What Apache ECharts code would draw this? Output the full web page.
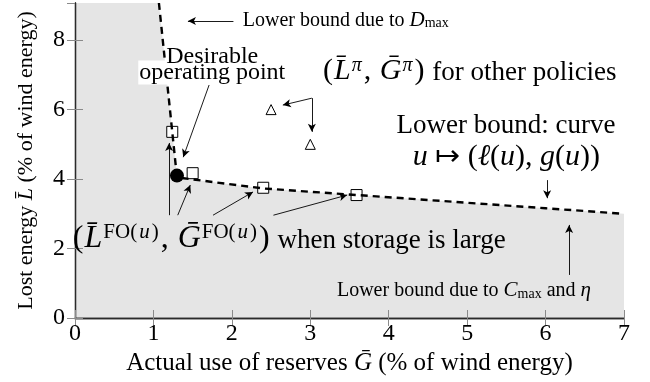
<!DOCTYPE html>
<html lang="en">
<head>
<meta charset="UTF-8">
<title>lower bound</title>
<script src="https://cdn.jsdelivr.net/npm/echarts@6/dist/echarts.min.js"></script>
</head>
<body style="margin:0;background:#fff">
<div id="main" style="width:650px;height:382px;"></div>
<script>
// values: G = reserves used, L = lost energy (% of wind energy)
var curveG = [1.07, 1.30, 1.50, 2.40, 3.60, 6.00, 7.00];
var curveL = [9.07, 4.05, 3.99, 3.73, 3.54, 3.16, 3.00];
var foG = [1.24, 1.50, 2.40, 3.59];
var foL = [5.36, 4.17, 3.75, 3.54];
var otherG = [2.5, 3.0];
var otherL = [6.0, 5.0];
var bestG = [1.30];
var bestL = [4.10];

// annotation arrows, in data coordinates [from, to]
var arrows = [
    [[2.02, 8.55], [1.44, 8.55]],
    [[1.71, 6.71], [1.38, 4.63]],
    [[3.02, 6.33], [2.65, 6.13]],
    [[3.02, 6.33], [3.02, 5.36]],
    [[6.02, 3.97], [6.02, 3.45]],
    [[6.30, 1.24], [6.30, 2.68]],
    [[1.20, 2.96], [1.20, 5.04]],
    [[1.31, 2.96], [1.47, 3.83]],
    [[1.76, 2.96], [2.27, 3.63]],
    [[2.53, 2.96], [3.47, 3.54]]
];

var SERIF = 'Liberation Serif';
var L = 'L\u0304', G = '\u1E20';

function pts(xs, ys) {
    return xs.map(function (x, i) { return [x, ys[i]]; });
}

// rich text styles: n = text, m/i = math (upright/italic), sup/isup/sub = scripts
function rich(sz, msz, ssz) {
    msz = msz || sz;
    ssz = ssz || Math.round(sz * 0.7);
    function st(size, extra) {
        var o = {fontFamily: SERIF, fontSize: size, color: '#000'};
        for (var k in extra) o[k] = extra[k];
        return o;
    }
    return {
        n: st(sz, {lineHeight: sz, verticalAlign: 'bottom'}),
        m: st(msz, {lineHeight: msz, verticalAlign: 'bottom', padding: [0, 1, 0, 1]}),
        i: st(msz, {lineHeight: msz, verticalAlign: 'bottom', fontStyle: 'italic'}),
        sup: st(ssz, {lineHeight: ssz, verticalAlign: 'top', padding: [0, 1, 0, 1]}),
        isup: st(ssz, {lineHeight: ssz, verticalAlign: 'top', fontStyle: 'italic', padding: [0, 1, 0, 1]}),
        sub: st(ssz, {lineHeight: Math.round(ssz * 0.5), verticalAlign: 'bottom'})
    };
}

// text notes: anchor in data coords, alignment, font sizes
var notes = [
    {x: 2.14, y: 8.58, align: 'left', sz: 20, msz: 21, ssz: 14,
        text: '{n|Lower bound due to }{i|D}{sub|max}'},
    {x: 1.75, y: 7.07, align: 'center', sz: 24, bg: '#fff', text: '{n|operating point}'},
    {x: 1.75, y: 7.53, align: 'center', sz: 24, text: '{n|Desirable}'},
    {x: 3.15, y: 7.11, align: 'left', sz: 27, msz: 30, ssz: 20,
        text: '{m|(}{i|' + L + '}{isup|\u03C0}{m|, }{i|' + G + '}{isup|\u03C0}{m|)}{n| for other policies}'},
    {x: 6.89, y: 5.52, align: 'right', sz: 27, text: '{n|Lower bound: curve}'},
    {x: 5.50, y: 4.63, align: 'center', sz: 30,
        text: '{i|u}{n| \u21A6 (}{i|\u2113}{n|(}{i|u}{n|), }{i|g}{n|(}{i|u}{n|))}'},
    {x: -0.04, y: 2.30, align: 'left', sz: 27, msz: 32, ssz: 21,
        text: '{m|(}{i|' + L + '}{sup|FO(}{isup|u}{sup|)}{m|, }{i|' + G + '}{sup|FO(}{isup|u}{sup|)}{m|)}{n| when storage is large}'},
    {x: 3.34, y: 0.79, align: 'left', sz: 20, msz: 21, ssz: 14,
        text: '{n|Lower bound due to }{i|C}{sub|max}{n| and }{i|\u03B7}'}
];

var chart = echarts.init(document.getElementById('main'));

var frame = {show: true, lineStyle: {color: '#2b2b2b', width: 1.3}};
var ticks = {show: true, inside: true, length: 8, lineStyle: {color: '#8a8a8a', width: 1}};

var option = {
    animation: false,
    grid: {left: 75, right: 26, top: 3, bottom: 64, containLabel: false, outerBoundsMode: 'none'},
    xAxis: [{
        type: 'value', min: 0, max: 7, interval: 1, position: 'bottom', z: 5,
        axisLine: frame, axisTick: ticks, splitLine: {show: false},
        axisLabel: {fontFamily: SERIF, fontSize: 24, color: '#000', margin: 4},
        name: '{n|Actual use of reserves }{i|' + G + '}{n| (% of wind energy)}',
        nameLocation: 'middle', nameGap: 27,
        nameTextStyle: {rich: rich(25)}
    }, {
        type: 'value', min: 0, max: 7, interval: 1, position: 'top', z: 5,
        axisLine: frame, axisTick: ticks, splitLine: {show: false},
        axisLabel: {show: false}
    }],
    yAxis: [{
        type: 'value', min: 0, max: 9.07, interval: 2, position: 'left', z: 5,
        axisLine: frame, axisTick: ticks, splitLine: {show: false},
        axisLabel: {fontFamily: SERIF, fontSize: 24, color: '#000', margin: 10, showMaxLabel: false},
        name: '{n|Lost energy }{i|' + L + '}{n| (% of wind energy)}',
        nameLocation: 'middle', nameGap: 38,
        nameTextStyle: {rich: rich(22)}
    }, {
        type: 'value', min: 0, max: 9.07, interval: 2, position: 'right', z: 5,
        axisLine: frame, axisTick: ticks, splitLine: {show: false},
        axisLabel: {show: false}
    }],
    series: [{
        // shaded region under the lower bound
        type: 'line', silent: true, z: 1,
        data: [[0, curveL[0]]].concat(pts(curveG, curveL)),
        symbol: 'none', lineStyle: {width: 0},
        areaStyle: {color: '#e5e5e5', opacity: 1}
    }, {
        type: 'scatter', z: 2,
        data: pts(foG, foL),
        symbol: 'rect', symbolSize: 11,
        itemStyle: {color: '#fff', borderColor: '#000', borderWidth: 1, opacity: 1}
    }, {
        type: 'line', z: 3,
        data: pts(curveG, curveL),
        symbol: 'none',
        lineStyle: {color: '#000', width: 2.4, type: [7, 5]}
    }, {
        type: 'scatter', z: 4,
        data: pts(bestG, bestL),
        symbol: 'circle', symbolSize: 14,
        itemStyle: {color: '#000', opacity: 1}
    }, {
        type: 'scatter', z: 4,
        data: pts(otherG, otherL),
        symbol: 'triangle', symbolSize: 10,
        itemStyle: {color: '#fff', borderColor: '#000', borderWidth: 1, opacity: 1},
        markLine: {
            silent: true, animation: false,
            symbol: ['none', 'arrow'], symbolSize: [6, 8],
            label: {show: false},
            lineStyle: {color: '#000', width: 0.9, type: 'solid'},
            emphasis: {disabled: true},
            data: arrows.map(function (a) { return [{coord: a[0]}, {coord: a[1]}]; })
        }
    }]
};

chart.setOption(option);

var graphic = notes.map(function (n, k) {
    var p = chart.convertToPixel({gridIndex: 0}, [n.x, n.y]);
    return {
        type: 'text', x: p[0], y: p[1], z: 100 + k, silent: true,
        style: {
            text: n.text, rich: rich(n.sz, n.msz, n.ssz),
            fontFamily: SERIF, fontSize: n.sz,
            align: n.align, verticalAlign: 'middle',
            textAlign: n.align, textVerticalAlign: 'middle',
            backgroundColor: n.bg || 'transparent', padding: n.bg ? [0, 1] : 0
        }
    };
});
chart.setOption({graphic: graphic});
</script>
</body>
</html>
